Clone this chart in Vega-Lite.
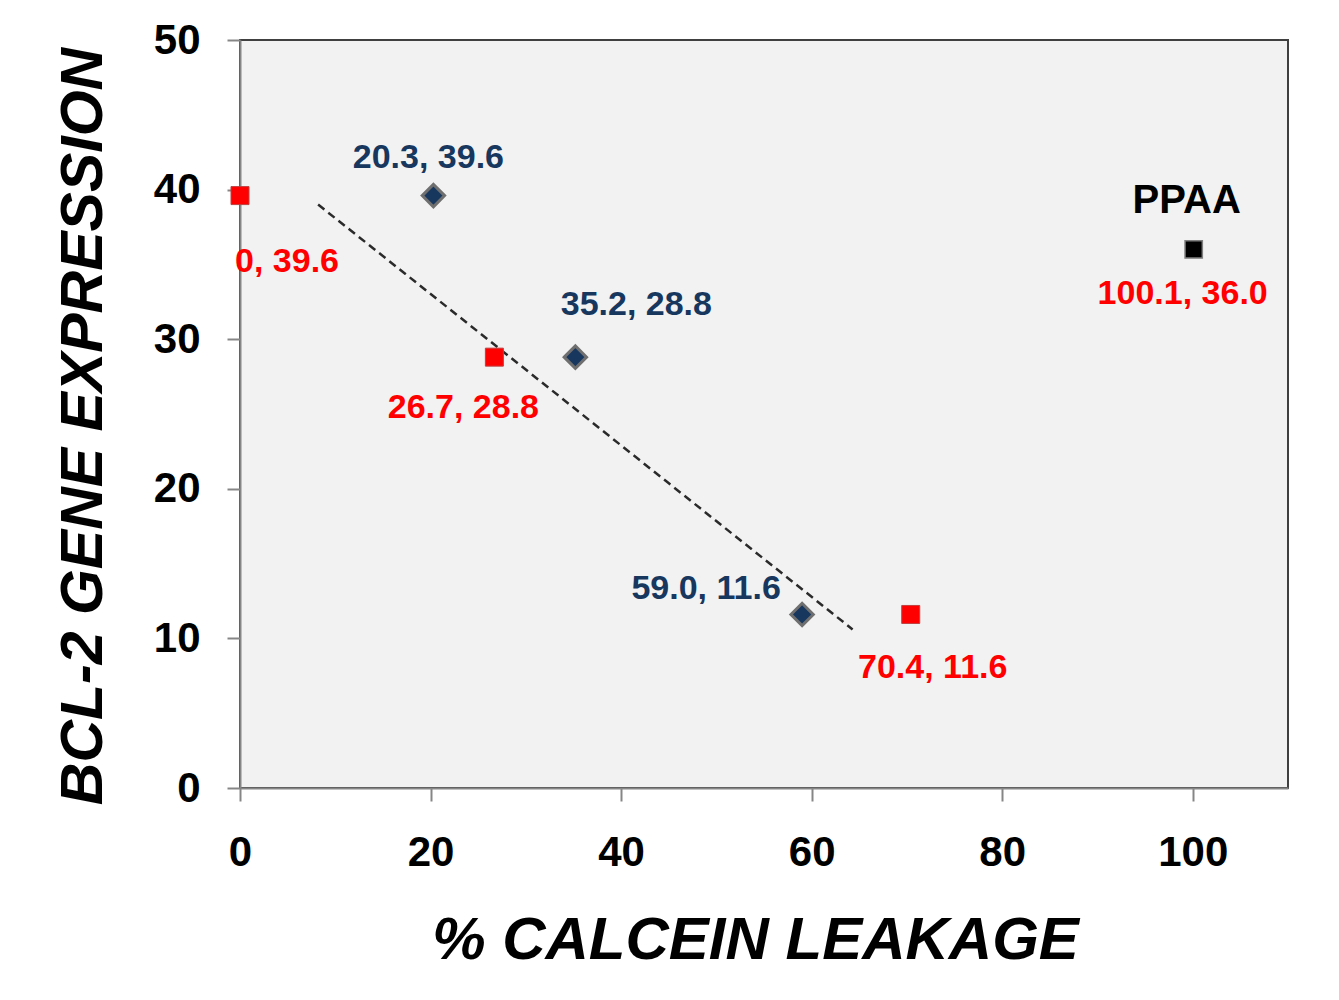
{
  "$schema": "https://vega.github.io/schema/vega-lite/v6.json",
  "width": 1048,
  "height": 748,
  "autosize": {"type": "none"},
  "padding": {"left": 240, "top": 40, "right": 51, "bottom": 212},
  "background": "white",
  "config": {
    "font": "Liberation Sans",
    "view": {"fill": "#f2f2f2", "stroke": "#404040", "strokeWidth": 2},
    "axis": {
      "grid": false,
      "labelFont": "Liberation Sans",
      "labelFontSize": 42,
      "labelFontWeight": "bold",
      "labelColor": "#000000",
      "labelFlush": false,
      "tickSize": 13,
      "tickColor": "#868686",
      "tickWidth": 2,
      "domainColor": "#868686",
      "domainWidth": 2,
      "titleFont": "Liberation Sans",
      "titleFontSize": 60,
      "titleFontWeight": "bold",
      "titleFontStyle": "italic",
      "titleColor": "#000000"
    }
  },
  "datasets": {
    "points": [
      {"series": "red", "x": 0, "y": 39.6, "label": "0, 39.6"},
      {"series": "red", "x": 26.7, "y": 28.8, "label": "26.7, 28.8"},
      {"series": "red", "x": 70.4, "y": 11.6, "label": "70.4, 11.6"},
      {"series": "blue", "x": 20.3, "y": 39.6, "label": "20.3, 39.6"},
      {"series": "blue", "x": 35.2, "y": 28.8, "label": "35.2, 28.8"},
      {"series": "blue", "x": 59.0, "y": 11.6, "label": "59.0, 11.6"},
      {"series": "black", "x": 100.1, "y": 36.0, "label": "100.1, 36.0"}
    ],
    "trend": [
      {"x": 8.2, "y": 39.0},
      {"x": 64.3, "y": 10.6}
    ]
  },
  "encoding": {
    "x": {
      "field": "x",
      "type": "quantitative",
      "scale": {"domain": [0, 110], "nice": false, "zero": false},
      "axis": {"values": [0, 20, 40, 60, 80, 100], "title": "% CALCEIN LEAKAGE", "labelPadding": 31, "titlePadding": 38, "titleX": 515}
    },
    "y": {
      "field": "y",
      "type": "quantitative",
      "scale": {"domain": [0, 50], "nice": false},
      "axis": {"values": [0, 10, 20, 30, 40, 50], "title": "BCL-2 GENE EXPRESSION", "labelPadding": 27, "titlePadding": 40, "titleFontSize": 59, "titleY": 386}
    }
  },
  "layer": [
    {
      "data": {"name": "trend"},
      "mark": {"type": "line", "color": "#2a2a2a", "strokeWidth": 2.5, "strokeDash": [8, 5]},
      "encoding": {}
    },
    {
      "data": {"name": "points"},
      "transform": [{"filter": "datum.series === 'red'"}],
      "mark": {"type": "point", "shape": "square", "filled": true, "size": 324, "color": "#ff0000", "stroke": "#c04040", "strokeWidth": 1, "opacity": 1}
    },
    {
      "data": {"name": "points"},
      "transform": [{"filter": "datum.series === 'blue'"}],
      "mark": {"type": "point", "shape": "diamond", "filled": true, "size": 500, "fill": "#17375e", "stroke": "#6f6f6f", "strokeWidth": 3, "opacity": 1, "strokeOpacity": 1}
    },
    {
      "data": {"name": "points"},
      "transform": [{"filter": "datum.series === 'black'"}],
      "mark": {"type": "point", "shape": "square", "filled": true, "size": 300, "fill": "#000000", "stroke": "#808080", "strokeWidth": 1.5, "opacity": 1, "strokeOpacity": 1}
    },
    {
      "data": {"name": "points"},
      "transform": [{"filter": "datum.label === '0, 39.6'"}],
      "mark": {"type": "text", "font": "Liberation Sans", "fontSize": 34, "fontWeight": "bold", "color": "#ff0000", "align": "center", "baseline": "middle", "dx": 47, "dy": 66},
      "encoding": {"text": {"field": "label"}}
    },
    {
      "data": {"name": "points"},
      "transform": [{"filter": "datum.label === '26.7, 28.8'"}],
      "mark": {"type": "text", "font": "Liberation Sans", "fontSize": 34, "fontWeight": "bold", "color": "#ff0000", "align": "center", "baseline": "middle", "dx": -31, "dy": 51},
      "encoding": {"text": {"field": "label"}}
    },
    {
      "data": {"name": "points"},
      "transform": [{"filter": "datum.label === '70.4, 11.6'"}],
      "mark": {"type": "text", "font": "Liberation Sans", "fontSize": 34, "fontWeight": "bold", "color": "#ff0000", "align": "center", "baseline": "middle", "dx": 22, "dy": 54},
      "encoding": {"text": {"field": "label"}}
    },
    {
      "data": {"name": "points"},
      "transform": [{"filter": "datum.label === '100.1, 36.0'"}],
      "mark": {"type": "text", "font": "Liberation Sans", "fontSize": 34, "fontWeight": "bold", "color": "#ff0000", "align": "center", "baseline": "middle", "dx": -11, "dy": 45},
      "encoding": {"text": {"field": "label"}}
    },
    {
      "data": {"name": "points"},
      "transform": [{"filter": "datum.series === 'black'"}],
      "mark": {"type": "text", "font": "Liberation Sans", "fontSize": 40, "fontWeight": "bold", "color": "#000000", "align": "center", "baseline": "middle", "dx": -7, "dy": -48, "text": "PPAA"}
    },
    {
      "data": {"name": "points"},
      "transform": [{"filter": "datum.label === '20.3, 39.6'"}],
      "mark": {"type": "text", "font": "Liberation Sans", "fontSize": 34, "fontWeight": "bold", "color": "#17375e", "align": "center", "baseline": "middle", "dx": -5, "dy": -38},
      "encoding": {"text": {"field": "label"}}
    },
    {
      "data": {"name": "points"},
      "transform": [{"filter": "datum.label === '35.2, 28.8'"}],
      "mark": {"type": "text", "font": "Liberation Sans", "fontSize": 34, "fontWeight": "bold", "color": "#17375e", "align": "center", "baseline": "middle", "dx": 61, "dy": -52},
      "encoding": {"text": {"field": "label"}}
    },
    {
      "data": {"name": "points"},
      "transform": [{"filter": "datum.label === '59.0, 11.6'"}],
      "mark": {"type": "text", "font": "Liberation Sans", "fontSize": 34, "fontWeight": "bold", "color": "#17375e", "align": "center", "baseline": "middle", "dx": -96, "dy": -25},
      "encoding": {"text": {"field": "label"}}
    }
  ]
}
